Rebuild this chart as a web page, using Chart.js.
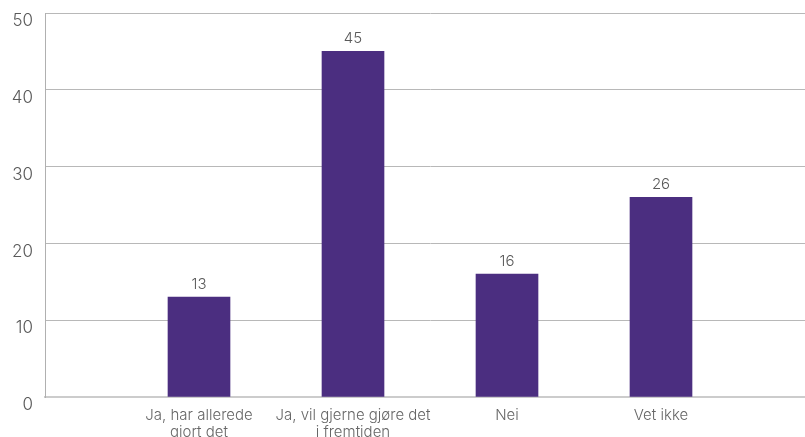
<!DOCTYPE html>
<html>
<head>
<meta charset="utf-8">
<script src="https://cdn.jsdelivr.net/npm/chart.js@4.4.1/dist/chart.umd.min.js"></script>
<style>
  html, body { margin: 0; padding: 0; background: #fff; overflow: hidden; }
  #wrap { width: 815px; height: 437px; }
</style>
</head>
<body>
<div id="wrap"><canvas id="myChart"></canvas></div>
<script>
// kategorier (tom plass før første og etter siste søyle)
var labels = ['', ['Ja, har allerede', 'gjort det'], ['Ja, vil gjerne gjøre det', 'i fremtiden'], 'Nei', 'Vet ikke', ''];
var values = [null, 13, 45, 16, 26, null];
var yTicks = [0, 10, 20, 30, 40, 50];

var barColor = '#4b2e80';
var textColor = '#5a5a5a';
var fontFamily = 'Inter, "Noto Sans", sans-serif';

// tall over hver søyle
var valueLabels = {
    id: 'valueLabels',
    afterDatasetsDraw: function(chart) {
        var ctx = chart.ctx;
        var meta = chart.getDatasetMeta(0);
        ctx.save();
        ctx.font = '300 15px ' + fontFamily;
        ctx.fillStyle = textColor;
        ctx.textAlign = 'center';
        ctx.textBaseline = 'middle';
        meta.data.forEach(function(bar, i) {
            var v = chart.data.datasets[0].data[i];
            if (v === null) return;
            ctx.fillText(v, bar.x, bar.y - 13);
        });
        ctx.restore();
    }
};

var ctx1 = document.getElementById('myChart').getContext('2d');
var myChart1 = new Chart(ctx1, {
    type: 'bar',
    data: {
        labels: labels,
        datasets: [{
            data: values,
            backgroundColor: barColor,
            barThickness: 62
        }]
    },
    options: {
        responsive: true,
        maintainAspectRatio: false,
        animation: false,
        layout: { padding: { top: 13, right: 0, left: 0, bottom: 0 } },
        plugins: {
            legend: { display: false },
            tooltip: { enabled: false }
        },
        scales: {
            x: {
                offset: false,
                grid: { display: false },
                border: { display: true, color: '#cccccc', width: 2 },
                ticks: {
                    color: '#666',
                    font: { family: fontFamily, size: 15, weight: 300, lineHeight: 1.15 },
                    padding: 2,
                    maxRotation: 0,
                    autoSkip: false
                },
                afterFit: function(scale) {
                    scale.height = 40;
                    scale.paddingLeft = 0;
                    scale.paddingRight = 0;
                }
            },
            y: {
                min: 0,
                max: 50,
                afterBuildTicks: function(scale) {
                    scale.ticks = yTicks.map(function(v) { return { value: v }; });
                },
                grid: { color: '#b8b8b8', lineWidth: 1, drawTicks: false },
                border: { display: true, color: '#b0b0b0', width: 1 },
                ticks: {
                    color: textColor,
                    font: { family: fontFamily, size: 17, weight: 300 },
                    padding: 12,
                    labelOffset: 8
                },
                afterFit: function(scale) {
                    scale.width = 45;
                    scale.paddingTop = 0;
                    scale.paddingBottom = 0;
                }
            }
        }
    },
    plugins: [valueLabels]
});
</script>
</body>
</html>
